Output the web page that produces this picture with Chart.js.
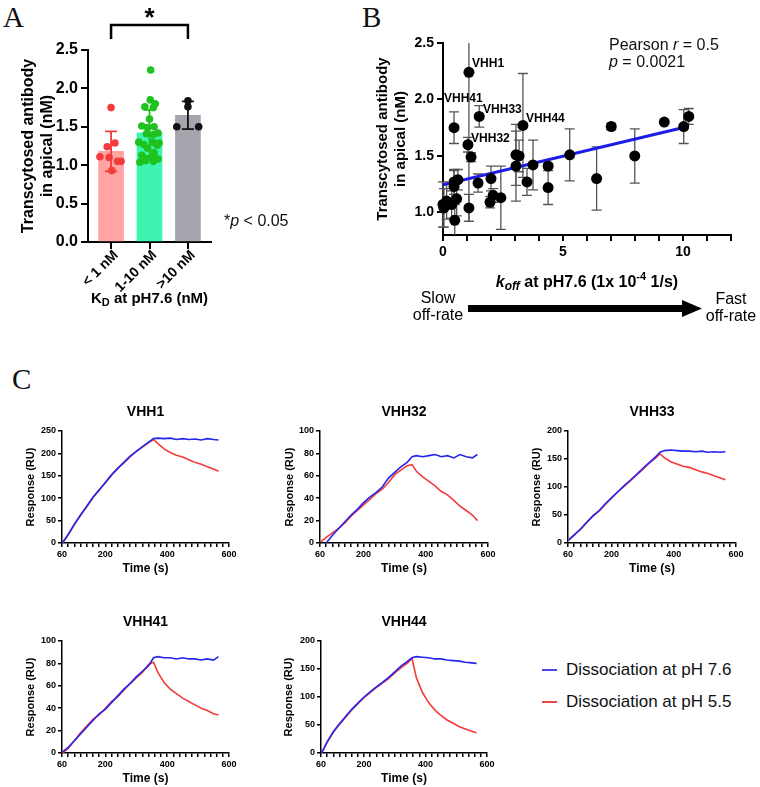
<!DOCTYPE html>
<html>
<head>
<meta charset="utf-8">
<script src="https://cdn.jsdelivr.net/npm/chart.js@4.4.1/dist/chart.umd.min.js"></script>
<style>
  body { margin: 0; width: 760px; height: 787px; overflow: hidden; background: #fff; position: relative;
         font-family: "Liberation Sans", Arial, sans-serif; color: #111; }
  canvas, .t { position: absolute; }
  .letter { font-family: "Liberation Serif", "Times New Roman", serif; font-size: 29px; line-height: 1; }
  .note { font-size: 16px; line-height: 16.5px; white-space: nowrap; }
  .leg { font-size: 17px; line-height: 20px; white-space: nowrap; }
  .leg i { display: inline-block; width: 15px; height: 2px; vertical-align: middle; margin: 0 9px 0 0; position: relative; top: -1px; }
</style>
</head>
<body>
<div class="t letter" style="left:3px;top:3px">A</div>
<div class="t letter" style="left:362px;top:3px">B</div>
<div class="t letter" style="left:12px;top:365px">C</div>

<canvas id="panelA" width="260" height="310" style="left:0;top:0"></canvas>
<div class="t note" style="left:224px;top:213px">*<i>p</i> &lt; 0.05</div>

<canvas id="panelB" width="410" height="310" style="left:350px;top:20px"></canvas>
<div class="t note" style="left:609px;top:37px">Pearson <i>r</i> = 0.5<br><i>p</i> = 0.0021</div>

<canvas id="vhh1" width="250" height="190" style="left:0;top:395px"></canvas>
<canvas id="vhh32" width="250" height="190" style="left:250px;top:395px"></canvas>
<canvas id="vhh33" width="250" height="190" style="left:500px;top:395px"></canvas>
<canvas id="vhh41" width="250" height="190" style="left:0;top:605px"></canvas>
<canvas id="vhh44" width="250" height="190" style="left:250px;top:605px"></canvas>

<div class="t leg" style="left:542px;top:660px"><i style="background:#4747ee"></i>Dissociation at pH 7.6</div>
<div class="t leg" style="left:542px;top:692px"><i style="background:#f04545"></i>Dissociation at pH 5.5</div>

<script>
// ---- panel A: transcytosis by KD group ----
const kdGroups = ['< 1 nM', '1-10 nM', '>10 nM'];
const kdMeans = [1.18, 1.42, 1.65];
const kdSD = [0.26, 0.30, 0.18];
const lowKdValues = [1.75, 1.29, 1.24, 1.11, 1.10, 1.05, 1.05, 0.93];
const lowKdJitter = [0.00, 0.10, -0.10, -0.29, -0.05, 0.17, 0.26, 0.02];
const midKdValues = [2.24, 1.85, 1.80, 1.76, 1.75, 1.60, 1.51, 1.50, 1.49, 1.42, 1.41, 1.40, 1.30,
                     1.30, 1.29, 1.27, 1.26, 1.22, 1.16, 1.13, 1.10, 1.08, 1.06, 1.04, 1.05];
const midKdJitter = [0.03, 0.02, 0.15, -0.12, 0.10, 0.00, -0.20, 0.12, -0.05, 0.22, -0.08, 0.10, -0.28,
                     0.08, 0.25, -0.15, 0.20, -0.05, 0.12, -0.20, 0.05, 0.22, -0.10, -0.25, 0.10];
const highKdValues = [1.84, 1.76, 1.50, 1.50];
const highKdJitter = [0.00, 0.00, -0.29, 0.28];

// ---- panel B: transcytosis vs koff ----
const koff = [0.00, 0.04, 0.15, 0.36, 0.46, 0.46, 0.46, 0.49, 0.57, 0.62, 1.04, 1.08, 1.08, 1.17, 1.46,
              1.51, 1.96, 2.00, 2.09, 2.41, 3.04, 3.04, 3.17, 3.33, 3.50, 3.75, 4.38, 4.38, 5.28, 6.40,
              7.01, 7.99, 9.22, 10.03, 10.24];
const apical = [1.07, 1.04, 1.10, 1.07, 1.75, 1.27, 1.23, 0.93, 1.12, 1.29, 1.60, 2.24, 1.04, 1.49, 1.26,
                1.85, 1.09, 1.30, 1.15, 1.13, 1.51, 1.41, 1.50, 1.77, 1.27, 1.42, 1.41, 1.22, 1.51, 1.30,
                1.76, 1.50, 1.80, 1.76, 1.85];
const apicalSD = [0.20, 0.17, 0.16, 0.12, 0.14, 0.11, 0.14, 0.14, 0.15, 0.09, 0.065, 1.32, 0.12, 0.04, 0.08,
                  0.095, 0.05, 0.11, 0.06, 0.28, 0.27, 0.31, 0.14, 0.46, 0.12, 0.22, 0.02, 0.15, 0.23, 0.28,
                  0.03, 0.24, 0.00, 0.15, 0.07];
const fitKoff = [0, 10.2];
const fitApical = [1.245, 1.76];
const cloneNames = ['VHH1', 'VHH41', 'VHH33', 'VHH32', 'VHH44'];
const cloneLabelKoff = [1.21, 0.04, 1.67, 1.17, 3.46];
const cloneLabelApical = [2.32, 2.01, 1.91, 1.65, 1.83];

// ---- panel C: SPR sensorgrams ----
const timeS = [62, 80, 100, 120, 140, 160, 180, 200, 220, 240, 260, 280, 300, 320, 340, 356,
               370, 390, 410, 430, 450, 470, 490, 510, 530, 550, 566];
const vhh1Ph76 = [1, 19, 42, 62, 82, 102, 118, 135, 152, 166, 180, 194, 204, 215, 225, 233,
                  234, 233, 234, 231, 233, 231, 232, 230, 233, 231, 230];
const vhh1Ph55 = [0, 18, 41, 63, 81, 101, 119, 134, 151, 167, 179, 192, 205, 214, 224, 231,
                  222, 210, 202, 196, 192, 186, 180, 176, 170, 165, 160];
const vhh32Ph76 = [null, 0, 7, 13, 19, 25, 30, 36, 41, 45, 50, 58, 63, 68, 72, 77,
                   78, 77, 78, 79, 77, 78, 76, 79, 77, 76, 79];
const vhh32Ph55 = [1, 5, 9, 13, 18, 24, 29, 34, 39, 44, 48, 54, 61, 65, 69, 70,
                   64, 59, 55, 51, 46, 43, 38, 33, 29, 25, 20];
const vhh33Ph76 = [5, 14, 25, 37, 48, 58, 70, 81, 91, 102, 112, 122, 133, 143, 153, 162,
                   165, 166, 165, 164, 164, 163, 164, 162, 163, 162, 163];
const vhh33Ph55 = [5, 15, 24, 36, 49, 57, 69, 80, 92, 101, 111, 121, 131, 142, 151, 159,
                   152, 145, 141, 137, 135, 131, 127, 124, 120, 116, 113];
const vhh41Ph76 = [1, 5, 11, 17, 23, 29, 35, 39, 45, 51, 57, 62, 68, 73, 78, 85,
                   86, 85, 85, 84, 85, 84, 84, 83, 84, 83, 86];
const vhh41Ph55 = [0, 4, 11, 18, 24, 30, 34, 40, 46, 50, 56, 62, 67, 72, 79, 81,
                   72, 63, 57, 53, 49, 46, 43, 40, 38, 35, 34];
const vhh44Ph76 = [0, 20, 38, 52, 65, 78, 89, 100, 109, 118, 126, 135, 145, 155, 163, 170,
                   172, 171, 170, 168, 168, 166, 165, 164, 162, 161, 160];
const vhh44Ph55 = [0, 19, 37, 51, 64, 77, 88, 99, 108, 117, 125, 133, 143, 152, 160, 169,
                   135, 108, 90, 77, 67, 59, 53, 47, 43, 39, 36];

const FONT = '"Liberation Sans", Arial, sans-serif';
Chart.defaults.font.family = FONT;
Chart.defaults.color = '#000';
Chart.defaults.animation = false;
Chart.defaults.plugins.legend.display = false;
Chart.defaults.plugins.tooltip.enabled = false;

const barColors = ['#ffa3a3', '#3df5b1', '#a5a5ad'];
const dotColors = ['#f23c3c', '#1fc21f', '#111111'];

// outward ticks, no grid
function axisLook(tickLen, width) {
  return {
    grid: { drawOnChartArea: false, drawTicks: true, tickLength: tickLen, color: '#000', lineWidth: width, offset: false },
    border: { color: '#000', width: width }
  };
}

// draws a row of text pieces (sub/superscripts) centred on cx
function richText(ctx, parts, cx, baseline) {
  let total = 0;
  parts.forEach(p => { ctx.font = p.font; p.w = ctx.measureText(p.t).width; total += p.w; });
  let x = cx - total / 2;
  ctx.textAlign = 'left';
  ctx.textBaseline = 'alphabetic';
  ctx.fillStyle = '#000';
  parts.forEach(p => { ctx.font = p.font; ctx.fillText(p.t, x, baseline + (p.dy || 0)); x += p.w; });
}

function jittered(offsets, values, group) {
  return values.map((v, i) => ({ x: group + offsets[i], y: v }));
}

// ---------- Panel A ----------
const panelAExtras = {
  id: 'panelAExtras',
  afterDatasetDraw(chart, args) {
    if (args.meta.type !== 'bar') return;
    const { ctx, scales: { x, y } } = chart;
    ctx.save();
    ctx.lineWidth = 1.8;
    kdMeans.forEach((m, i) => {
      const px = x.getPixelForValue(i);
      const top = y.getPixelForValue(m + kdSD[i]);
      const bot = y.getPixelForValue(m - kdSD[i]);
      ctx.strokeStyle = dotColors[i];
      ctx.beginPath();
      ctx.moveTo(px, top); ctx.lineTo(px, bot);
      ctx.moveTo(px - 6, top); ctx.lineTo(px + 6, top);
      ctx.moveTo(px - 6, bot); ctx.lineTo(px + 6, bot);
      ctx.stroke();
    });
    ctx.restore();
  },
  afterDraw(chart) {
    const { ctx, chartArea, scales: { x } } = chart;
    const x0 = x.getPixelForValue(0), x2 = x.getPixelForValue(2);
    ctx.save();
    ctx.strokeStyle = '#000';
    ctx.lineWidth = 2.5;
    ctx.beginPath();
    ctx.moveTo(x0, chartArea.top - 11);
    ctx.lineTo(x0, chartArea.top - 25);
    ctx.lineTo(x2, chartArea.top - 25);
    ctx.lineTo(x2, chartArea.top - 11);
    ctx.stroke();
    ctx.fillStyle = '#000';
    ctx.font = 'bold 26px ' + FONT;
    ctx.textAlign = 'center';
    ctx.fillText('*', (x0 + x2) / 2, chartArea.top - 24);
    // group names, slanted 45 degrees and ending at their tick
    ctx.font = 'bold 14px ' + FONT;
    ctx.textAlign = 'right';
    ctx.textBaseline = 'middle';
    kdGroups.forEach((g, i) => {
      ctx.save();
      ctx.translate(x.getPixelForValue(i) + 5, chartArea.bottom + 11);
      ctx.rotate(-Math.PI / 4);
      ctx.fillText(g, 0, 0);
      ctx.restore();
    });
    richText(ctx, [
      { t: 'K', font: 'bold 15px ' + FONT },
      { t: 'D', font: 'bold 11px ' + FONT, dy: 3 },
      { t: ' at pH7.6 (nM)', font: 'bold 15px ' + FONT }
    ], (chartArea.left + chartArea.right) / 2, 303);
    ctx.restore();
  }
};

new Chart(document.getElementById('panelA'), {
  type: 'scatter',
  data: {
    datasets: [
      { data: jittered(lowKdJitter, lowKdValues, 0), backgroundColor: dotColors[0], borderWidth: 0, pointRadius: 3.8, order: 1 },
      { data: jittered(midKdJitter, midKdValues, 1), backgroundColor: dotColors[1], borderWidth: 0, pointRadius: 3.8, order: 1 },
      { data: jittered(highKdJitter, highKdValues, 2), backgroundColor: dotColors[2], borderWidth: 0, pointRadius: 3.8, order: 1 },
      { type: 'bar', data: kdMeans.map((v, i) => ({ x: i, y: v })), backgroundColor: barColors,
        barThickness: 25, order: 2 }
    ]
  },
  options: {
    responsive: false,
    layout: { padding: { top: 50, right: 49, left: 0, bottom: 0 } },
    scales: {
      x: {
        type: 'linear', min: -0.6, max: 2.6, offset: false,
        afterBuildTicks: s => { s.ticks = [0, 1, 2].map(value => ({ value })); },
        afterFit: s => { s.height = 68; },
        ticks: { display: false },
        ...axisLook(7, 2)
      },
      y: {
        min: 0, max: 2.5,
        afterFit: s => { s.width = 88; },
        ticks: { stepSize: 0.5, callback: v => v.toFixed(1), padding: 3, font: { size: 16, weight: 'bold' } },
        title: { display: true, text: ['Transcytosed antibody', 'in apical (nM)'],
                 font: { size: 16, weight: 'bold' }, padding: { top: 19 } },
        ...axisLook(7, 2)
      }
    }
  },
  plugins: [panelAExtras]
});

// ---------- Panel B ----------
const panelBExtras = {
  id: 'panelBExtras',
  beforeDatasetsDraw(chart) {
    const { ctx, chartArea, scales: { x, y } } = chart;
    ctx.save();
    ctx.beginPath();
    ctx.rect(chartArea.left - 8, chartArea.top, chartArea.width + 16, chartArea.height);
    ctx.clip();
    ctx.strokeStyle = '#555';
    ctx.lineWidth = 1.3;
    koff.forEach((k, i) => {
      if (!apicalSD[i]) return;
      const px = x.getPixelForValue(k);
      const top = y.getPixelForValue(apical[i] + apicalSD[i]);
      const bot = y.getPixelForValue(apical[i] - apicalSD[i]);
      ctx.beginPath();
      ctx.moveTo(px, top); ctx.lineTo(px, bot);
      ctx.moveTo(px - 5, top); ctx.lineTo(px + 5, top);
      ctx.moveTo(px - 5, bot); ctx.lineTo(px + 5, bot);
      ctx.stroke();
    });
    ctx.restore();
  },
  afterDraw(chart) {
    const { ctx, scales: { x, y } } = chart;
    ctx.save();
    ctx.fillStyle = '#000';
    ctx.font = 'bold 12px ' + FONT;
    ctx.textAlign = 'left';
    ctx.textBaseline = 'middle';
    cloneNames.forEach((n, i) => {
      ctx.fillText(n, x.getPixelForValue(cloneLabelKoff[i]), y.getPixelForValue(cloneLabelApical[i]));
    });
    richText(ctx, [
      { t: 'k', font: 'italic bold 16px ' + FONT },
      { t: 'off', font: 'italic bold 12px ' + FONT, dy: 3 },
      { t: ' at pH7.6 (1x 10', font: 'bold 16px ' + FONT },
      { t: '-4', font: 'bold 11px ' + FONT, dy: -7 },
      { t: ' 1/s)', font: 'bold 16px ' + FONT }
    ], 237, 267);
    // slow / fast arrow under the axis
    ctx.font = '16px ' + FONT;
    ctx.textAlign = 'center';
    ctx.textBaseline = 'alphabetic';
    ctx.fillText('Slow', 88, 283);
    ctx.fillText('off-rate', 88, 300);
    ctx.fillText('Fast', 381, 284);
    ctx.fillText('off-rate', 381, 301);
    ctx.fillRect(118, 285, 216, 7);
    ctx.beginPath();
    ctx.moveTo(332, 280); ctx.lineTo(352, 288.5); ctx.lineTo(332, 297); ctx.closePath();
    ctx.fill();
    ctx.restore();
  }
};

new Chart(document.getElementById('panelB'), {
  type: 'scatter',
  data: {
    datasets: [
      { data: koff.map((k, i) => ({ x: k, y: apical[i] })), backgroundColor: '#000', borderWidth: 0,
        pointRadius: 5.5, clip: false, order: 0 },
      { type: 'line', data: fitKoff.map((k, i) => ({ x: k, y: fitApical[i] })), borderColor: '#1c1ce6',
        borderWidth: 3, pointRadius: 0, order: 1 }
    ]
  },
  options: {
    responsive: false,
    layout: { padding: { top: 23, right: 29, left: 0, bottom: 0 } },
    scales: {
      x: {
        type: 'linear', min: 0, max: 12,
        afterFit: s => { s.height = 95; },
        ticks: { stepSize: 1, autoSkip: false, maxRotation: 0, callback: v => (v % 5 === 0 ? String(v) : ''),
                 padding: 3, font: { size: 14, weight: 'bold' } },
        ...axisLook(6, 2)
      },
      y: {
        min: 0.8, max: 2.5,
        afterBuildTicks: s => { s.ticks = [1, 1.5, 2, 2.5].map(value => ({ value })); },
        afterFit: s => { s.width = 93; },
        ticks: { callback: v => v.toFixed(1), padding: 3, font: { size: 14, weight: 'bold' } },
        title: { display: true, text: ['Transcytosed antibody', 'in apical (nM)'],
                 font: { size: 15, weight: 'bold' }, padding: { top: 24 } },
        ...axisLook(6, 2)
      }
    }
  },
  plugins: [panelBExtras]
});

// ---------- Panel C ----------
const sprTitle = {
  id: 'sprTitle',
  afterDraw(chart, args, opts) {
    const { ctx, chartArea } = chart;
    ctx.save();
    ctx.fillStyle = '#000';
    ctx.font = 'bold 14px ' + FONT;
    ctx.textAlign = 'center';
    ctx.textBaseline = 'middle';
    ctx.fillText(opts.text, (chartArea.left + chartArea.right) / 2, 17);
    ctx.restore();
  }
};

function sprChart(id, name, ph76, ph55, yMax, yStep, plotLeft, padRight, yTitleX) {
  new Chart(document.getElementById(id), {
    type: 'line',
    data: {
      datasets: [
        { data: ph76.map((v, i) => ({ x: timeS[i], y: v })), borderColor: '#2525ee', borderWidth: 1.6, pointRadius: 0 },
        { data: ph55.map((v, i) => ({ x: timeS[i], y: v })), borderColor: '#f53b3b', borderWidth: 1.6, pointRadius: 0 }
      ]
    },
    options: {
      responsive: false,
      layout: { padding: { top: 36, right: padRight, left: 0, bottom: 0 } },
      plugins: { sprTitle: { text: name } },
      scales: {
        x: {
          type: 'linear', min: 60, max: 600,
          afterFit: s => { s.height = 42; },
          ticks: { stepSize: 20, autoSkip: false, maxRotation: 0,
                   callback: v => ([60, 200, 400, 600].includes(v) ? String(v) : ''),
                   padding: 2, font: { size: 9, weight: 'bold' } },
          title: { display: true, text: 'Time (s)', font: { size: 12, weight: 'bold' }, padding: { bottom: 9 } },
          ...axisLook(4, 1.5)
        },
        y: {
          min: 0, max: yMax,
          afterFit: s => { s.width = plotLeft; },
          ticks: { stepSize: yStep, padding: 2, font: { size: 9, weight: 'bold' } },
          title: { display: true, text: 'Response (RU)', font: { size: 11, weight: 'bold' },
                   padding: { top: yTitleX - 6.6 } },
          ...axisLook(4, 1.5)
        }
      }
    },
    plugins: [sprTitle]
  });
}

sprChart('vhh1', 'VHH1', vhh1Ph76, vhh1Ph55, 250, 50, 62, 21, 31);
sprChart('vhh32', 'VHH32', vhh32Ph76, vhh32Ph55, 100, 20, 70, 12, 40);
sprChart('vhh33', 'VHH33', vhh33Ph76, vhh33Ph55, 200, 50, 68, 14, 37);
sprChart('vhh41', 'VHH41', vhh41Ph76, vhh41Ph55, 100, 20, 62, 21, 31);
sprChart('vhh44', 'VHH44', vhh44Ph76, vhh44Ph55, 200, 50, 71, 13, 39);
</script>
</body>
</html>
